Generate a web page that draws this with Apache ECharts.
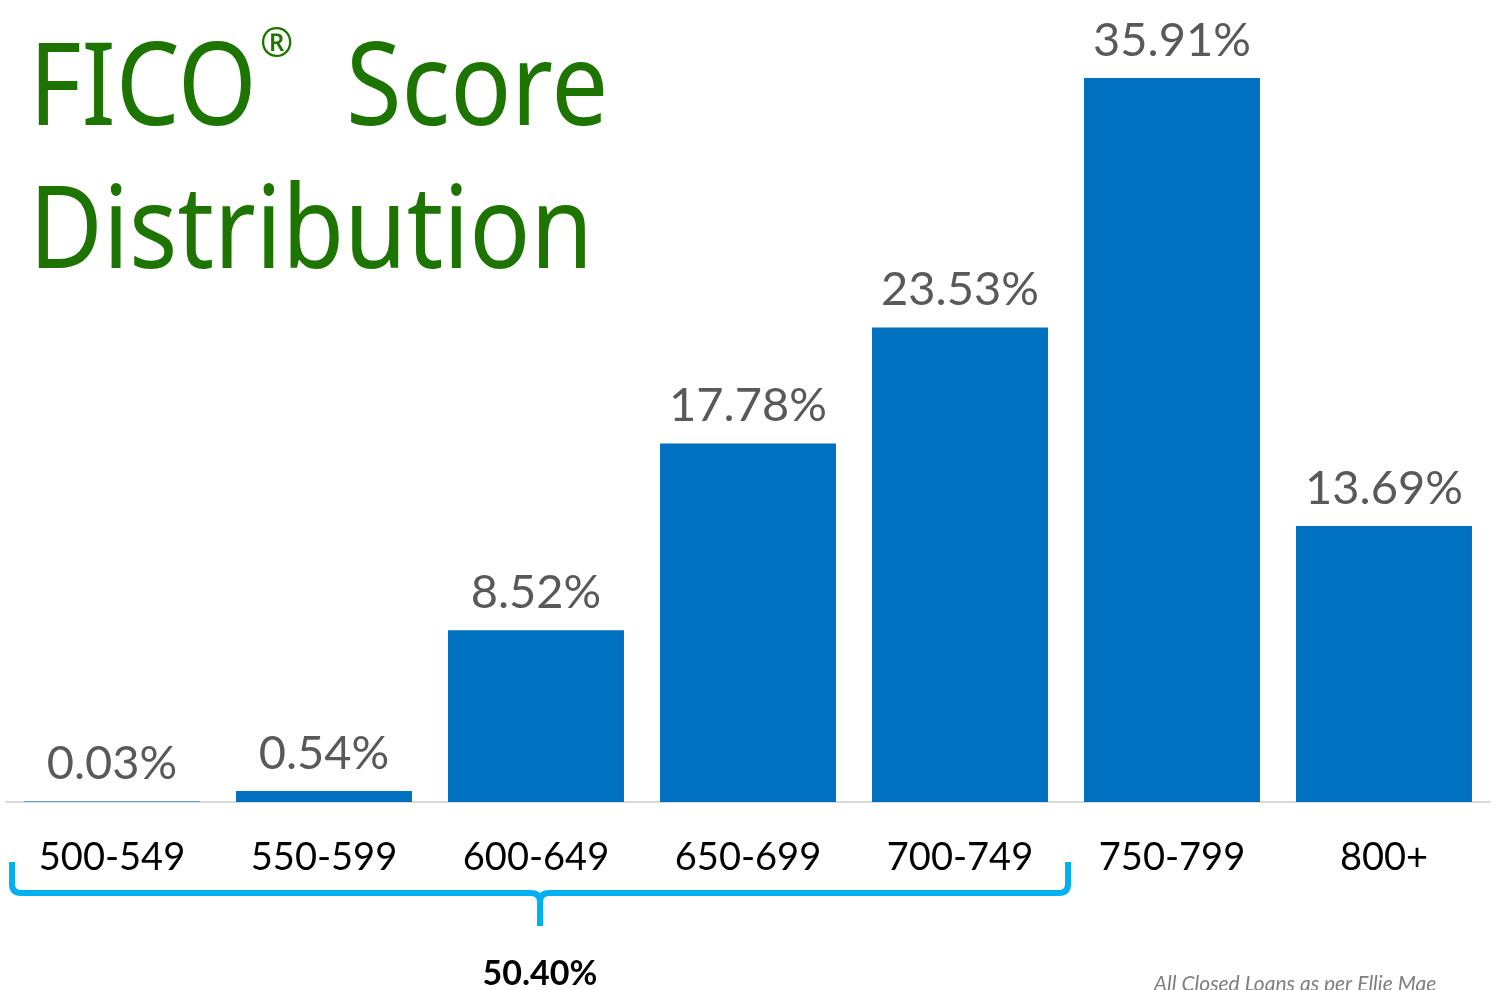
<!DOCTYPE html>
<html>
<head>
<meta charset="utf-8">
<title>FICO Score Distribution</title>
<script src="https://cdn.jsdelivr.net/npm/echarts@6/dist/echarts.min.js"></script>
<style>
    html, body { margin: 0; padding: 0; background: #fff; }
    #chart { width: 1497px; height: 990px; }
</style>
</head>
<body>
<div id="chart"></div>
<script>
// 分数区间
const categories = ['500-549', '550-599', '600-649', '650-699', '700-749', '750-799', '800+'];
// 各区间占比（%）
const shares = [0.03, 0.54, 8.52, 17.78, 23.53, 35.91, 13.69];
// 括号覆盖的区间数（500-749）
const bracketCount = 5;

const FONT = 'Lato, "Noto Sans", sans-serif';
const TITLE_FONT = '"Noto Sans", sans-serif';
const GREEN = '#1e7400';
const CYAN = '#00b0f0';

document.addEventListener('DOMContentLoaded', function() {
    const chart = echarts.init(document.getElementById('chart'));

    const option = {
        animation: false,
        grid: {
            left: 6,
            right: 7,
            top: 78,
            bottom: 188,
            containLabel: false
        },
        xAxis: {
            type: 'category',
            data: categories,
            axisLine: { lineStyle: { color: '#d9d9d9', width: 2 } },
            axisTick: { show: false },
            axisLabel: {
                color: '#000',
                fontFamily: FONT,
                fontSize: 38,
                margin: 37
            }
        },
        yAxis: {
            type: 'value',
            min: 0,
            max: function(v) { return v.max; },
            show: false,
            splitLine: { show: false }
        },
        series: [{
            type: 'bar',
            data: shares,
            barCategoryGap: '17%',
            itemStyle: { color: '#0070c0' },
            label: {
                show: true,
                position: 'top',
                distance: 14,
                color: '#595959',
                fontFamily: FONT,
                fontSize: 47,
                formatter: function(p) { return p.value.toFixed(2) + '%'; }
            }
        }]
    };
    chart.setOption(option);

    // 括号位置根据坐标轴换算
    const c0 = chart.convertToPixel({ xAxisIndex: 0 }, 0);
    const c1 = chart.convertToPixel({ xAxisIndex: 0 }, 1);
    const cLast = chart.convertToPixel({ xAxisIndex: 0 }, bracketCount - 1);
    const band = c1 - c0;
    const axisY = chart.convertToPixel({ yAxisIndex: 0 }, 0);

    const left = c0 - band / 2 + 6;
    const right = cLast + band / 2 + 2;
    const mid = (left + right) / 2;
    const y0 = axisY + 60;
    const y1 = axisY + 91;
    const y2 = axisY + 124;
    const r = 9;

    const braceStyle = { stroke: CYAN, lineWidth: 6, fill: 'none' };
    function seg(x1, ya, x2, yb) {
        return { type: 'line', shape: { x1: x1, y1: ya, x2: x2, y2: yb }, style: braceStyle };
    }
    function curve(x1, ya, cx, cy, x2, yb) {
        return { type: 'bezierCurve', shape: { x1: x1, y1: ya, cpx1: cx, cpy1: cy, x2: x2, y2: yb }, style: braceStyle };
    }

    let total = 0;
    for (let i = 0; i < bracketCount; i++) total += shares[i];

    // 标题文字（横向压缩以接近原字体宽度）
    function titleText(str, x, y, size, sx) {
        return {
            type: 'text',
            x: x,
            y: y,
            scaleX: sx,
            style: {
                text: str,
                fontFamily: TITLE_FONT,
                fontSize: size,
                fill: GREEN,
                align: 'left',
                verticalAlign: 'middle'
            }
        };
    }

    chart.setOption({
        graphic: [
            titleText('FICO', 29, 92, 115, 0.88),
            titleText('®', 260, 46, 40, 1),
            titleText('Score', 346, 92, 115, 0.88),
            titleText('Distribution', 29, 235, 115, 0.88),
            seg(left, y0, left, y1 - r),
            curve(left, y1 - r, left, y1, left + r, y1),
            seg(left + r, y1, mid - r, y1),
            curve(mid - r, y1, mid, y1, mid, y1 + r),
            curve(mid + r, y1, mid, y1, mid, y1 + r),
            seg(mid, y1 + r, mid, y2),
            seg(mid + r, y1, right - r, y1),
            curve(right - r, y1, right, y1, right, y1 - r),
            seg(right, y1 - r, right, y0),
            {
                type: 'text',
                x: mid,
                y: axisY + 172,
                style: {
                    text: total.toFixed(2) + '%',
                    fontFamily: FONT,
                    fontWeight: 'bold',
                    fontSize: 34,
                    fill: '#000',
                    align: 'center',
                    verticalAlign: 'middle'
                }
            },
            {
                type: 'text',
                x: 1295,
                y: axisY + 182,
                style: {
                    text: 'All Closed Loans as per Ellie Mae',
                    fontFamily: FONT,
                    fontStyle: 'italic',
                    fontSize: 21,
                    fill: '#7f7f7f',
                    align: 'center',
                    verticalAlign: 'middle'
                }
            }
        ]
    });

    window.addEventListener('resize', function() {
        chart.resize();
    });
});
</script>
</body>
</html>
